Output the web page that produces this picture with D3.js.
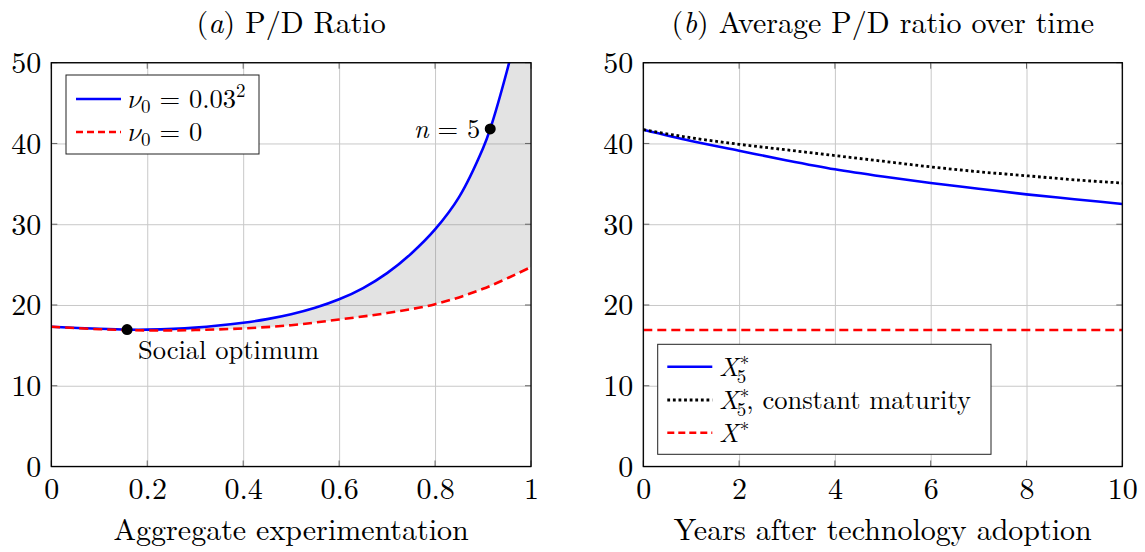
<!DOCTYPE html>
<html>
<head>
<meta charset="utf-8">
<script src="https://cdn.jsdelivr.net/npm/d3@7"></script>
<style>
  body { margin: 0; background: #fff; }
</style>
</head>
<body>
<script>
// ---- data ----
// (a) P/D ratio vs aggregate experimentation
const expBlue = [0, 0.1, 0.158, 0.2, 0.3, 0.4, 0.45, 0.5, 0.55, 0.6, 0.65, 0.7, 0.75, 0.8, 0.85, 0.9, 0.915, 0.95, 0.96];
const pdBlue  = [17.3, 17.05, 16.95, 16.95, 17.2, 17.8, 18.25, 18.85, 19.65, 20.7, 22.1, 23.95, 26.35, 29.35, 33.35, 39.4, 41.8, 49.0, 51.4];
const expRed  = [0, 0.1, 0.2, 0.3, 0.4, 0.5, 0.6, 0.7, 0.8, 0.9, 1.0];
const pdRed   = [17.3, 17.0, 16.85, 16.9, 17.1, 17.5, 18.2, 19.0, 20.1, 22.0, 24.7];
const socialOpt = [0.158, 16.95];
const nFive = [0.915, 41.8];

// (b) average P/D ratio over time
const years      = [0, 1, 2, 3, 4, 5, 6, 7, 8, 9, 10];
const avgX5      = [41.7, 40.3, 39.1, 37.9, 36.8, 35.9, 35.1, 34.4, 33.7, 33.1, 32.5];
const avgX5const = [41.7, 40.7, 39.9, 39.2, 38.5, 37.8, 37.1, 36.5, 36.0, 35.5, 35.1];
const avgXstar   = [16.9, 16.9, 16.9, 16.9, 16.9, 16.9, 16.9, 16.9, 16.9, 16.9, 16.9];

const yTicks  = [0, 10, 20, 30, 40, 50];
const xTicksA = [0, 0.2, 0.4, 0.6, 0.8, 1];
const xTicksB = [0, 2, 4, 6, 8, 10];

// ---- layout ----
const W = 1145, H = 552;
const TOP = 62.7, BOT = 466.5;
const FS = 30;      // ticks, titles
const FL = 26.5;    // legend / annotations
const FONT = '"Latin Modern Roman", "Liberation Serif", serif';
const MATH = '"Latin Modern Math", "STIX Two Math", "STIX Two Text", "Latin Modern Roman", serif';

const svg = d3.select("body").append("svg").attr("width", W).attr("height", H);
const serif = s => s.style("font-family", FONT).style("fill", "#000");

const y = d3.scaleLinear().domain([0, 50]).range([BOT, TOP]);
const xA = d3.scaleLinear().domain([0, 1]).range([51.3, 531]);
const xB = d3.scaleLinear().domain([0, 10]).range([643.3, 1122.3]);

function panel(id, x, xTicks, title, xlabel) {
  const g = svg.append("g");
  const [x0, x1] = x.range();

  // grid
  g.append("g").attr("transform", `translate(0,${BOT})`)
    .call(d3.axisBottom(x).tickValues(xTicks).tickSize(-(BOT - TOP)).tickFormat(""))
    .call(s => s.select(".domain").remove())
    .selectAll("line").attr("stroke", "#c8c8c8").attr("stroke-width", 1);
  g.append("g").attr("transform", `translate(${x0},0)`)
    .call(d3.axisLeft(y).tickValues(yTicks).tickSize(-(x1 - x0)).tickFormat(""))
    .call(s => s.select(".domain").remove())
    .selectAll("line").attr("stroke", "#c8c8c8").attr("stroke-width", 1);

  svg.append("clipPath").attr("id", id).append("rect")
    .attr("x", x0).attr("y", TOP).attr("width", x1 - x0).attr("height", BOT - TOP);

  // tick labels
  g.append("g").attr("transform", `translate(0,${BOT})`)
    .call(d3.axisBottom(x).tickValues(xTicks).tickSize(0).tickPadding(0).tickFormat(d => String(d)))
    .call(s => s.select(".domain").remove())
    .selectAll("text").attr("y", 32).attr("dy", 0).style("font-size", FS + "px").call(serif);
  g.append("g").attr("transform", `translate(${x0},0)`)
    .call(d3.axisLeft(y).tickValues(yTicks).tickSize(0).tickPadding(0).tickFormat(d => String(d)))
    .call(s => s.select(".domain").remove())
    .selectAll("text").attr("x", -10).attr("dy", "0.33em").style("font-size", FS + "px").call(serif);

  // titles
  g.append("text").attr("x", (x0 + x1) / 2).attr("y", 33).attr("text-anchor", "middle")
    .style("font-size", FS + "px").call(serif).html(title);
  g.append("text").attr("x", (x0 + x1) / 2).attr("y", 540).attr("text-anchor", "middle")
    .style("font-size", FS + "px").call(serif).text(xlabel);

  return g;
}

function ticksAndFrame(g, x, xTicks) {
  const [x0, x1] = x.range();
  const tl = 6;
  xTicks.forEach(t => {
    g.append("line").attr("x1", x(t)).attr("x2", x(t)).attr("y1", BOT).attr("y2", BOT - tl).attr("stroke", "#666");
    g.append("line").attr("x1", x(t)).attr("x2", x(t)).attr("y1", TOP).attr("y2", TOP + tl).attr("stroke", "#666");
  });
  yTicks.forEach(t => {
    g.append("line").attr("x1", x0).attr("x2", x0 + tl).attr("y1", y(t)).attr("y2", y(t)).attr("stroke", "#666");
    g.append("line").attr("x1", x1).attr("x2", x1 - tl).attr("y1", y(t)).attr("y2", y(t)).attr("stroke", "#666");
  });
  g.append("rect").attr("x", x0).attr("y", TOP).attr("width", x1 - x0).attr("height", BOT - TOP)
    .attr("fill", "none").attr("stroke", "#000").attr("stroke-width", 1.3);
}

// ---------- panel (a) ----------
const gA = panel("clipA", xA, xTicksA,
  '(<tspan font-style="italic">a</tspan>) P/D Ratio', "Aggregate experimentation");

const lineA = d3.line().x(d => xA(d[0])).y(d => y(d[1])).curve(d3.curveCatmullRom.alpha(0.5));
const blueA = expBlue.map((v, i) => [v, pdBlue[i]]);
const redA = expRed.map((v, i) => [v, pdRed[i]]);

// shaded region between the two curves
const areaPath = lineA(blueA) + "L" + xA(1) + "," + y(pdBlue[pdBlue.length - 1]) +
  lineA(redA.slice().reverse()).replace(/^M/, "L") + "Z";
const plotA = gA.append("g").attr("clip-path", "url(#clipA)");
plotA.append("path").attr("d", areaPath).attr("fill", "#808080").attr("fill-opacity", 0.22);
plotA.append("path").attr("d", lineA(blueA)).attr("fill", "none")
  .attr("stroke", "#0000ff").attr("stroke-width", 2.6);
plotA.append("path").attr("d", lineA(redA)).attr("fill", "none")
  .attr("stroke", "#ff0000").attr("stroke-width", 2.6).attr("stroke-dasharray", "9,5");

ticksAndFrame(gA, xA, xTicksA);

gA.append("circle").attr("cx", xA(socialOpt[0])).attr("cy", y(socialOpt[1])).attr("r", 5.5).attr("fill", "#000");
gA.append("circle").attr("cx", xA(nFive[0])).attr("cy", y(nFive[1])).attr("r", 5.5).attr("fill", "#000");
gA.append("text").attr("x", 138).attr("y", 359).style("font-size", FL + "px").call(serif).text("Social optimum");
gA.append("text").attr("x", xA(nFive[0]) - 10).attr("y", y(nFive[1]) + 9).attr("text-anchor", "end")
  .style("font-size", FL + "px").call(serif).html('<tspan font-style="italic">n</tspan> = 5');

// legend (a)
const nu = `<tspan style='font-family:${MATH}'>\u{1D708}</tspan>`;
const legA = gA.append("g");
legA.append("rect").attr("x", 66).attr("y", 75).attr("width", 193).attr("height", 79)
  .attr("fill", "#fff").attr("stroke", "#222").attr("stroke-width", 1);
legA.append("line").attr("x1", 76).attr("x2", 121).attr("y1", 99).attr("y2", 99)
  .attr("stroke", "#0000ff").attr("stroke-width", 2.6);
legA.append("line").attr("x1", 76).attr("x2", 121).attr("y1", 132).attr("y2", 132)
  .attr("stroke", "#ff0000").attr("stroke-width", 2.6).attr("stroke-dasharray", "7,4");
legA.append("text").attr("x", 128).attr("y", 108).style("font-size", FL + "px").call(serif)
  .html(nu + '<tspan font-size="19" dy="5">0</tspan><tspan dy="-5"> = 0.03</tspan><tspan font-size="19" dy="-11">2</tspan>');
legA.append("text").attr("x", 128).attr("y", 141).style("font-size", FL + "px").call(serif)
  .html(nu + '<tspan font-size="19" dy="5">0</tspan><tspan dy="-5"> = 0</tspan>');

// ---------- panel (b) ----------
const gB = panel("clipB", xB, xTicksB,
  '(<tspan font-style="italic">b</tspan>) Average P/D ratio over time', "Years after technology adoption");

const lineB = d3.line().x(d => xB(d[0])).y(d => y(d[1])).curve(d3.curveMonotoneX);
const plotB = gB.append("g").attr("clip-path", "url(#clipB)");
plotB.append("path").attr("d", lineB(years.map((t, i) => [t, avgXstar[i]]))).attr("fill", "none")
  .attr("stroke", "#ff0000").attr("stroke-width", 2.6).attr("stroke-dasharray", "9,5");
plotB.append("path").attr("d", lineB(years.map((t, i) => [t, avgX5[i]]))).attr("fill", "none")
  .attr("stroke", "#0000ff").attr("stroke-width", 2.6);
plotB.append("path").attr("d", lineB(years.map((t, i) => [t, avgX5const[i]]))).attr("fill", "none")
  .attr("stroke", "#000").attr("stroke-width", 2.8).attr("stroke-dasharray", "2.8,2.8");

ticksAndFrame(gB, xB, xTicksB);

// legend (b)
const legB = gB.append("g");
legB.append("rect").attr("x", 657.7).attr("y", 344.3).attr("width", 333.3).attr("height", 110)
  .attr("fill", "#fff").attr("stroke", "#222").attr("stroke-width", 1);
const rowsB = [
  { y: 366.7, color: "#0000ff", dash: null, w: 2.6, sub: true, label: "" },
  { y: 400, color: "#000", dash: "2.8,2.8", w: 2.8, sub: true, label: ", constant maturity" },
  { y: 432.7, color: "#ff0000", dash: "7,4", w: 2.6, sub: false, label: "" }
];
// width of the script-size asterisk, to stack the subscript under it
const probe = svg.append("text").style("font-size", "19px").call(serif).text("*");
const starW = probe.node().getComputedTextLength();
probe.remove();
rowsB.forEach(r => {
  legB.append("line").attr("x1", 667.3).attr("x2", 712.3).attr("y1", r.y).attr("y2", r.y)
    .attr("stroke", r.color).attr("stroke-width", r.w).attr("stroke-dasharray", r.dash);
  let h = '<tspan font-style="italic">X</tspan><tspan font-size="19" dx="1" dy="-6">*</tspan>';
  if (r.sub) {
    h += `<tspan font-size="19" dx="${-starW - 3}" dy="13">5</tspan><tspan dy="-7">${r.label}</tspan>`;
  }
  legB.append("text").attr("x", 719).attr("y", r.y + 9).style("font-size", FL + "px").call(serif).html(h);
});
</script>
</body>
</html>
